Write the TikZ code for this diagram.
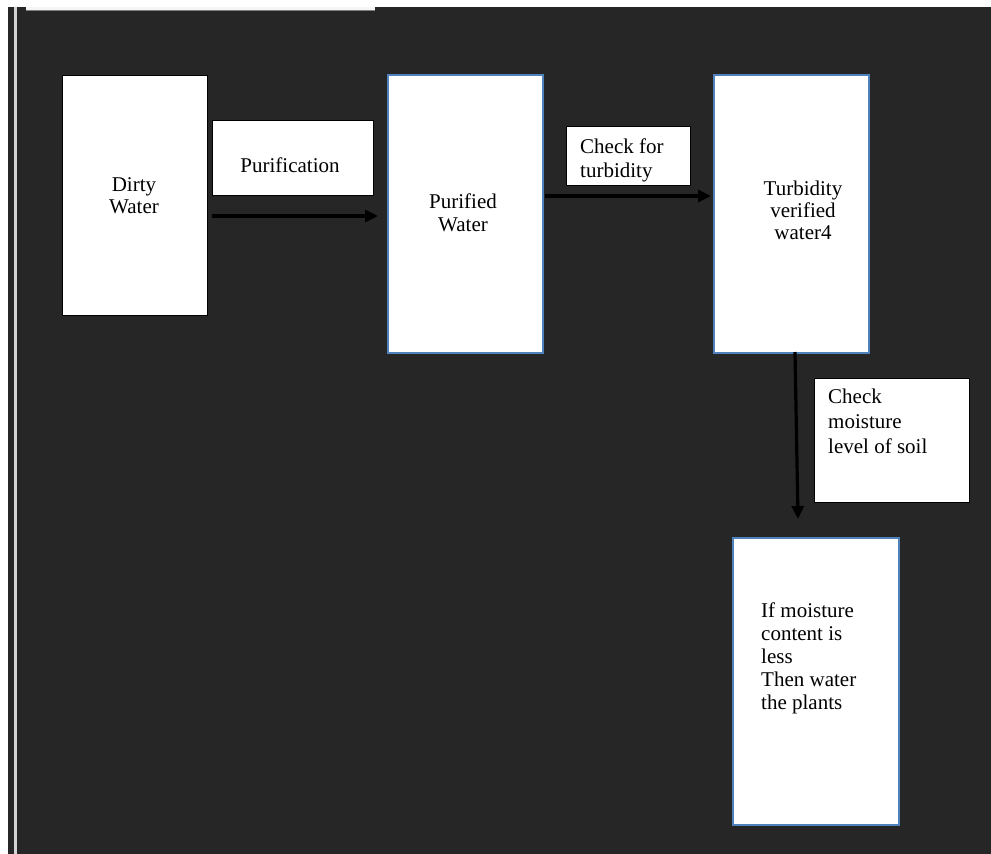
\documentclass[tikz,border=0pt]{standalone}
\usepackage{fontspec}
\setmainfont{Liberation Serif}
\usetikzlibrary{arrows.meta}
\definecolor{bgdark}{HTML}{262626}
\definecolor{edgeblue}{HTML}{4F81BD}
\definecolor{stripe}{HTML}{D4D4D4}
\tikzset{
  box/.style={draw=black, line width=1.2pt, fill=white, inner sep=0pt, anchor=north west},
  bluebox/.style={draw=edgeblue, line width=1.8pt, fill=white, inner sep=0pt, anchor=north west},
  txt/.style={inner sep=0pt, font=\fontsize{21}{23}\selectfont, text=black},
  arr/.style={line width=3.2pt, black, -{Triangle[length=13pt,width=12pt]}}
}
\begin{document}
\begin{tikzpicture}[x=1pt,y=-1pt]
\useasboundingbox (0,0) rectangle (991,854);
\fill[white] (0,0) rectangle (991,854);
\fill[bgdark] (8,7) rectangle (991,854);
\fill[stripe] (14,7) rectangle (17,854);
\fill[white!96!black] (26,7) rectangle (375,10);
\draw[gray, line width=0.8pt] (26,10.3) -- (375,10.3);

% boxes
\node[box, minimum width=145pt, minimum height=240pt] (dirty) at (62,75) {};
\node[box, minimum width=161pt, minimum height=75pt] (purif) at (212,120) {};
\node[bluebox, minimum width=155pt, minimum height=278pt] (purified) at (387,74) {};
\node[box, minimum width=124pt, minimum height=59pt] (checkturb) at (566,126) {};
\node[bluebox, minimum width=155pt, minimum height=278pt] (turb) at (713,74) {};
\node[box, minimum width=155pt, minimum height=124pt] (checkmoist) at (814,378) {};
\node[bluebox, minimum width=166pt, minimum height=287pt] (final) at (732,537) {};

% texts
\node[txt, anchor=north, align=center, font=\fontsize{21}{22}\selectfont] (tdirty) at (134,177) {Dirty\\Water};
\node[txt, anchor=north] (tpurif) at (290,158) {Purification};
\node[txt, anchor=north, align=center] (tpurified) at (463,194) {Purified\\Water};
\node[txt, anchor=north west, align=left, font=\fontsize{21}{24}\selectfont] (tcheckturb) at (580,139) {Check for\\turbidity};
\node[txt, anchor=north, align=center, font=\fontsize{21}{22}\selectfont] (tturb) at (803,181) {Turbidity\\verified\\water4};
\node[txt, anchor=north west, align=left, font=\fontsize{21}{25}\selectfont] (tcheckmoist) at (828,389) {Check\\moisture\\level of soil};
\node[txt, anchor=north west, align=left] (tfinal) at (761,603) {If moisture\\content is\\less\\Then water\\the plants};

% connectors
\coordinate (a1s) at (212,216);
\coordinate (a1e) at (378,216);
\coordinate (a2s) at (545,196);
\coordinate (a2e) at (711,196);
\coordinate (a3s) at (795,352);
\coordinate (a3e) at (798,519);
\draw[arr] (a1s) -- (a1e);
\draw[arr] (a2s) -- (a2e);
\draw[arr] (a3s) -- (a3e);
\end{tikzpicture}
\end{document}
